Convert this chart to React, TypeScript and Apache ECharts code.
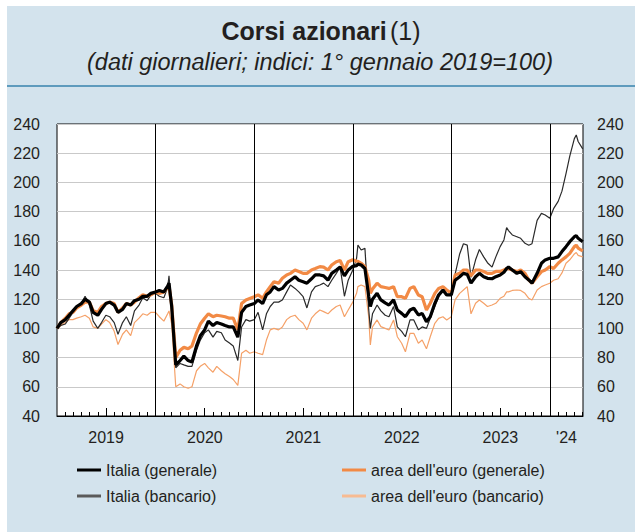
import React, { useEffect, useRef } from 'react';
import * as echarts from 'echarts';

const FONT = '"Liberation Sans", Arial, Helvetica, sans-serif';
const TEXT = '#231f20';

// dates of the sampled points (semi-monthly plus a few turning points)
const dates = [
  '2019-01-01','2019-01-15','2019-02-01','2019-02-15','2019-03-01','2019-03-15','2019-04-01','2019-04-15','2019-05-01','2019-05-15','2019-06-01','2019-06-15','2019-07-01','2019-07-15','2019-08-01','2019-08-15','2019-09-01','2019-09-15','2019-10-01','2019-10-15','2019-11-01','2019-11-15','2019-12-01','2019-12-15',
  '2020-01-01','2020-01-15','2020-02-01','2020-02-15','2020-02-20','2020-03-01','2020-03-16','2020-04-01','2020-04-15','2020-05-01','2020-05-15','2020-06-01','2020-06-15','2020-07-01','2020-07-15','2020-08-01','2020-08-15','2020-09-01','2020-09-15','2020-10-01','2020-10-15','2020-11-01','2020-11-15','2020-12-01','2020-12-15',
  '2021-01-01','2021-01-15','2021-02-01','2021-02-15','2021-03-01','2021-03-15','2021-04-01','2021-04-15','2021-05-01','2021-05-15','2021-06-01','2021-06-15','2021-07-01','2021-07-15','2021-08-01','2021-08-15','2021-09-01','2021-09-15','2021-10-01','2021-10-15','2021-11-01','2021-11-15','2021-12-01','2021-12-15',
  '2022-01-01','2022-01-15','2022-01-20','2022-02-01','2022-02-15','2022-03-01','2022-03-07','2022-03-15','2022-04-01','2022-04-15','2022-05-01','2022-05-15','2022-06-01','2022-06-15','2022-07-01','2022-07-15','2022-08-01','2022-08-15','2022-09-01','2022-09-15','2022-10-01','2022-10-15','2022-11-01','2022-11-15','2022-12-01','2022-12-15',
  '2023-01-01','2023-01-15','2023-02-01','2023-02-15','2023-03-01','2023-03-15','2023-04-01','2023-04-15','2023-05-01','2023-05-15','2023-06-01','2023-06-15','2023-07-01','2023-07-15','2023-07-25','2023-08-01','2023-08-15','2023-09-01','2023-09-15','2023-10-01','2023-10-15','2023-10-27','2023-11-15','2023-12-01','2023-12-15',
  '2024-01-01','2024-01-15','2024-02-01','2024-02-15','2024-03-01','2024-03-15','2024-04-01','2024-04-08','2024-04-15','2024-05-02',
];

const italiaGenerale = [
  100, 104, 106, 109, 112, 115, 117, 120, 118, 111, 109, 113, 117, 118, 116, 111, 113, 117, 116, 119, 120, 122, 122, 124,
  125, 126, 125, 129, 131, 115, 75, 78, 81, 78, 77, 88, 95, 99, 105, 102, 104, 103, 102, 101, 101, 94, 111, 115, 116,
  117, 119.5, 117, 123, 125, 128.6, 126.3, 127.4, 131, 133, 135.4, 133, 132, 131, 134, 136.6, 136.6, 136, 133, 137.7, 140, 142, 136, 140,
  142.5, 143, 144, 143.4, 141, 122, 115, 120, 124, 119.5, 117.5, 116, 119.5, 112.6, 110.3, 108, 112.6, 113.8, 109.2, 110.3, 104.6, 108, 117.2, 122.9, 126.3, 122.9,
  123, 133, 135.4, 137.7, 137, 131, 135.4, 137.7, 135.4, 134.3, 134, 135.4, 136.6, 138.5, 141, 142, 140, 137.7, 138.9, 135.4, 133.2, 131, 137.7, 144.6, 146.9,
  148, 148, 149, 152.6, 156, 159.4, 162.8, 163.5, 161.7, 159.4,
];

const euroGenerale = [
  100, 104, 107, 110, 111, 114, 116, 118, 118, 112, 111, 115, 117, 118, 117, 111, 114, 117, 116, 118, 121, 123, 122, 123,
  125, 124, 125, 128, 129, 116, 80, 85, 87, 86, 88, 97, 103, 107, 110, 108, 109, 108.5, 108, 107, 107, 99, 117, 119.5, 120.5,
  121.7, 123, 120.6, 125, 128.6, 132, 131, 134.3, 136.6, 137.7, 140, 139, 137.7, 137.7, 140, 141, 142.3, 142, 140, 143.4, 145.7, 146.5, 140, 145.7,
  147, 146, 146, 144.6, 142.3, 133, 124, 127, 131, 128.6, 128, 127.4, 128.6, 121.7, 121.7, 120.6, 127.4, 128.6, 122.9, 121.7, 112.6, 117.2, 124, 127.4, 128.6, 126.3,
  124, 136.6, 137.7, 140, 140, 136, 140, 140, 139, 137.7, 137.7, 139, 139, 140, 141, 141, 140, 138.9, 140, 137.7, 133.2, 131, 135.4, 138.9, 140,
  142.3, 141, 144.6, 146.9, 149, 151.4, 156, 157, 155, 153,
];

const italiaBancario = [
  100, 102, 103, 107, 111, 114, 117, 122, 116, 105, 100, 104, 109, 108, 104, 96, 104, 108, 102, 112, 116, 121, 119, 123,
  124, 122, 121, 128, 136, 112, 73, 76, 75, 74, 74, 85, 92, 97, 99, 94, 98, 97, 92, 90, 88, 78, 101, 106, 105,
  106, 111, 99, 110, 115, 118, 118, 119.5, 125, 129.7, 127.4, 125, 121.7, 114, 125, 128.6, 129.7, 131, 128.6, 133, 137.7, 142, 122, 133,
  140, 148, 157, 153.7, 154.8, 113, 100, 110, 116, 112, 109, 108, 115, 101, 98, 94.3, 105.8, 105.8, 99, 101, 100, 107, 115, 121.7, 125.2, 122.9,
  123, 137, 151, 158, 157, 135, 147, 154, 149, 145, 142, 149, 156, 160.6, 169, 167, 164, 162.8, 161.7, 158.3, 157, 158, 174, 178.8, 177.7,
  175.4, 182, 187, 194, 206, 218, 230, 232.5, 228, 223,
];

const euroBancario = [
  100, 102, 104, 106, 106, 107, 108, 109, 107, 101, 100, 103, 106, 104, 98, 89, 96, 99, 95, 104, 107, 110, 109, 111,
  111, 108, 105, 110, 112, 103, 60, 62, 60, 59, 60, 71, 74, 76, 73, 70, 74, 71, 69, 67, 65, 61, 83, 85, 83,
  84, 83, 82, 92, 99, 100, 99, 101, 106, 108, 109, 106, 103.5, 99, 107, 110, 112.6, 111.5, 110, 112.6, 115, 116, 108, 112.6,
  118, 124, 128.6, 129.7, 128.6, 108, 88.6, 101, 105.8, 101.2, 100, 98.9, 105.8, 94.3, 89.8, 84, 96.6, 96.6, 89.8, 92, 86, 94.3, 103.5, 106.9, 108, 105.8,
  108, 119.5, 124, 126.3, 128.6, 110, 117.2, 119.5, 117.2, 115, 116, 117.2, 120.6, 122, 125, 125, 126, 126.3, 126, 124, 120.6, 119.5, 126.3, 128.6, 129.7,
  130.9, 133, 134, 138, 144.6, 147, 151, 152, 150, 149,
];

const axisStart = '2019-01-01';
const axisEnd = '2024-05-03';
const yearStarts = ['2020-01-01', '2021-01-01', '2022-01-01', '2023-01-01', '2024-01-01'];
const yearLabels = ['2019', '2020', '2021', '2022', '2023', "'24"];
const yearLabelDates = ['2019-07-02', '2020-07-02', '2021-07-02', '2022-07-02', '2023-07-02', '2024-03-03'];
const yTicks = [40, 240, 20]; // min, max, step

const ts = (s: string) => Date.parse(s + 'T00:00:00Z');
const pairs = (vals: number[]) => dates.map((d, i) => [ts(d), vals[i]]);

function monthTicks(onlyJuly: boolean) {
  const out: number[] = [];
  const end = ts(axisEnd);
  for (let y = 2019; y <= 2024; y++) {
    for (let m = 1; m < 12; m++) {
      if (onlyJuly !== (m === 6)) continue;
      const t = Date.UTC(y, m, 1);
      if (t <= end) out.push(t);
    }
  }
  return out;
}

const LABELS = new Map(yearLabelDates.map((d, i) => [ts(d), yearLabels[i]]));

function buildOption() {
  const xCommon = {
    type: 'value',
    min: ts(axisStart),
    max: ts(axisEnd),
    position: 'bottom',
    splitLine: { show: false },
    scale: true,
  };
  return {
    animation: false,
    backgroundColor: 'transparent',
    textStyle: { fontFamily: FONT },
    graphic: [
      {
        type: 'line',
        shape: { x1: 7, y1: 86, x2: 635, y2: 86 },
        style: { stroke: '#5e9bbd', lineWidth: 2 },
        silent: true,
      },
      {
        type: 'text',
        x: 321,
        y: 31,
        style: {
          text: '{b|Corsi azionari} {r|(1)}',
          align: 'center',
          verticalAlign: 'middle',
          rich: {
            b: { fontSize: 25, fontWeight: 'bold', fill: TEXT, fontFamily: FONT },
            r: { fontSize: 25, fontWeight: 'normal', fill: TEXT, fontFamily: FONT },
          },
        },
        silent: true,
      },
      {
        type: 'text',
        x: 320,
        y: 62,
        style: {
          text: '(dati giornalieri; indici: 1° gennaio 2019=100)',
          fontSize: 23.5,
          fontStyle: 'italic',
          fontFamily: FONT,
          fill: TEXT,
          align: 'center',
          verticalAlign: 'middle',
        },
        silent: true,
      },
    ],
    grid: {
      left: 57,
      top: 124,
      right: 52,
      bottom: 116,
      show: true,
      backgroundColor: '#ffffff',
      borderColor: '#000000',
      borderWidth: 1,
    },
    legend: [
      {
        left: 72,
        top: 457,
        orient: 'vertical',
        itemWidth: 24,
        itemHeight: 3,
        itemGap: 10,
        textStyle: { fontSize: 16, color: TEXT, fontFamily: FONT },
        data: [
          { name: 'Italia (generale)', icon: 'rect', itemStyle: { color: '#000000', borderWidth: 0 } },
          { name: 'Italia (bancario)', icon: 'rect', itemStyle: { color: '#5a5a5a', borderWidth: 0 } },
        ],
      },
      {
        left: 337,
        top: 457,
        orient: 'vertical',
        itemWidth: 24,
        itemHeight: 3,
        itemGap: 10,
        textStyle: { fontSize: 16, color: TEXT, fontFamily: FONT },
        data: [
          { name: "area dell'euro (generale)", icon: 'rect', itemStyle: { color: '#f28a45', borderWidth: 0 } },
          { name: "area dell'euro (bancario)", icon: 'rect', itemStyle: { color: '#f7bb92', borderWidth: 0 } },
        ],
      },
    ],
    xAxis: [
      {
        ...xCommon,
        axisLine: { show: true, lineStyle: { color: '#000', width: 1 } },
        axisTick: {
          show: true,
          inside: true,
          length: 4,
          customValues: monthTicks(false),
          lineStyle: { color: '#000', width: 1 },
        },
        axisLabel: {
          show: true,
          customValues: yearLabelDates.map(ts),
          formatter: (v: number) => LABELS.get(v) ?? '',
          fontSize: 16,
          color: TEXT,
          fontFamily: FONT,
          margin: 13,
        },
      },
      {
        ...xCommon,
        axisLine: { show: false },
        axisTick: {
          show: true,
          inside: true,
          length: 8,
          customValues: monthTicks(true),
          lineStyle: { color: '#000', width: 1 },
        },
        axisLabel: { show: false },
      },
    ],
    yAxis: [
      {
        type: 'value',
        position: 'left',
        min: yTicks[0],
        max: yTicks[1],
        interval: yTicks[2],
        axisLine: { show: false },
        axisTick: { show: false },
        axisLabel: { fontSize: 16, color: TEXT, fontFamily: FONT, margin: 17 },
        splitLine: { show: true, lineStyle: { color: '#c9c9c9', width: 1 } },
      },
      {
        type: 'value',
        position: 'right',
        min: yTicks[0],
        max: yTicks[1],
        interval: yTicks[2],
        axisLine: { show: false },
        axisTick: { show: false },
        axisLabel: { fontSize: 16, color: TEXT, fontFamily: FONT, margin: 14 },
        splitLine: { show: false },
      },
    ],
    series: [
      {
        name: "area dell'euro (bancario)",
        type: 'line',
        data: pairs(euroBancario),
        showSymbol: false,
        symbol: 'none',
        lineStyle: { color: '#f5a168', width: 1.2 },
        itemStyle: { color: '#f7bb92' },
        z: 2,
      },
      {
        name: 'Italia (bancario)',
        type: 'line',
        data: pairs(italiaBancario),
        showSymbol: false,
        symbol: 'none',
        lineStyle: { color: '#2a2a2a', width: 1.2 },
        itemStyle: { color: '#5a5a5a' },
        z: 3,
      },
      {
        name: "area dell'euro (generale)",
        type: 'line',
        data: pairs(euroGenerale),
        showSymbol: false,
        symbol: 'none',
        lineStyle: { color: '#f28a45', width: 3.2 },
        itemStyle: { color: '#f28a45' },
        z: 4,
      },
      {
        name: 'Italia (generale)',
        type: 'line',
        data: pairs(italiaGenerale),
        showSymbol: false,
        symbol: 'none',
        lineStyle: { color: '#000000', width: 3.2 },
        itemStyle: { color: '#000000' },
        z: 5,
        markLine: {
          silent: true,
          symbol: ['none', 'none'],
          label: { show: false },
          lineStyle: { color: '#000', width: 1, type: 'solid' },
          data: yearStarts.map((d) => ({ xAxis: ts(d) })),
        },
      },
    ],
  };
}

export default function App() {
  const ref = useRef<HTMLDivElement>(null);
  useEffect(() => {
    document.body.style.margin = '0';
    if (!ref.current) return;
    const chart = echarts.init(ref.current, null, { renderer: 'svg' });
    chart.setOption(buildOption() as any);
    return () => chart.dispose();
  }, []);
  return (
    <div style={{ position: 'relative', width: 635, height: 532, background: '#ffffff' }}>
      <div style={{ position: 'absolute', left: 7, top: 6, width: 628, height: 526, background: '#d3e3ed' }} />
      <div ref={ref} style={{ position: 'absolute', left: 0, top: 0, width: 635, height: 532 }} />
    </div>
  );
}
